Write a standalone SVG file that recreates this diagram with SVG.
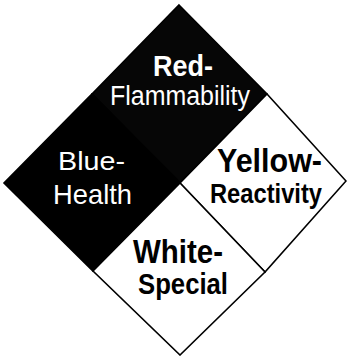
<svg xmlns="http://www.w3.org/2000/svg" width="347" height="356" viewBox="0 0 347 356">
<style>
.t{font-family:"Liberation Sans",Arial,sans-serif;text-anchor:middle}
.w{fill:#fff}
.k{fill:#000}
.b{font-weight:bold}
.dia{stroke:#000;stroke-width:1.6;stroke-linejoin:miter}
</style>
<rect width="347" height="356" fill="#fff"/>
<g id="red">
<polygon class="dia" points="179,5 267,94 180,183 92,94" fill="#060606"/>
<text class="t w b" x="183" y="76" font-size="29" textLength="60" lengthAdjust="spacingAndGlyphs">Red-</text>
<text class="t w" x="180" y="105" font-size="27" textLength="140" lengthAdjust="spacingAndGlyphs">Flammability</text>
</g>
<g id="blue">
<polygon class="dia" points="92,94 180,183 93,271 4,183" fill="#000"/>
<text class="t w" x="91.5" y="170" font-size="26" textLength="67" lengthAdjust="spacingAndGlyphs">Blue-</text>
<text class="t w" x="92.5" y="204" font-size="28" textLength="79" lengthAdjust="spacingAndGlyphs">Health</text>
</g>
<g id="yellow">
<polygon class="dia" points="267,94 346,181 265,272 180,183" fill="#fff"/>
<text class="t k b" x="269.5" y="172" font-size="33" textLength="105" lengthAdjust="spacingAndGlyphs">Yellow-</text>
<text class="t k b" x="266" y="203" font-size="27" textLength="112" lengthAdjust="spacingAndGlyphs">Reactivity</text>
</g>
<g id="white">
<polygon class="dia" points="180,183 265,272 180,355 93,271" fill="#fff"/>
<text class="t k b" x="178" y="263" font-size="33" textLength="90" lengthAdjust="spacingAndGlyphs">White-</text>
<text class="t k b" x="183" y="294" font-size="30" textLength="90" lengthAdjust="spacingAndGlyphs">Special</text>
</g>
<g id="connectors"></g>
</svg>
